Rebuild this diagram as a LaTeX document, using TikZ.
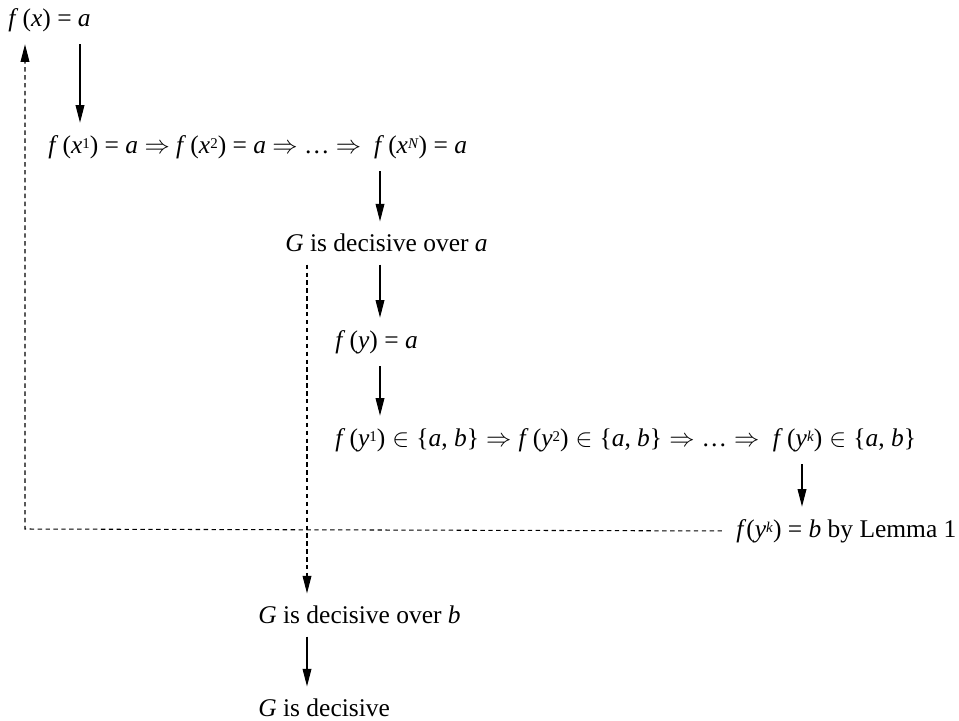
\documentclass[tikz,border=0pt]{standalone}
\usepackage{fontspec}
\setmainfont{Liberation Serif}
\usetikzlibrary{arrows.meta}
\newcommand{\iv}[1]{\textit{#1}}
\newcommand{\up}[1]{\raisebox{0.4ex}{\fontsize{8.5}{9}\selectfont #1}}
\newcommand{\inn}{\;$\in$\;}
\newcommand{\thn}{\;$\Rightarrow$\;}

\begin{document}
\begin{tikzpicture}[x=0.02cm, y=-0.02cm, font=\fontsize{14.5}{17}\selectfont,
  txt/.style={anchor=west, inner xsep=0pt, inner ysep=7pt},
  imp/.style={-{Triangle[length=10pt,width=5pt]}, line width=0.6pt},
  back/.style={imp, dash pattern=on 2.5pt off 2pt}]
  \useasboundingbox (0,0) rectangle (959,720);
  % columns of the arrows
  \coordinate (colA) at (80,0);
  \coordinate (colB) at (380,0);
  \coordinate (colC) at (802,0);
  \coordinate (colD) at (307,0);
  \coordinate (corner) at (25,529);
  \node[txt] (fx)  at (8,20)    {\iv{f}\,(\iv{x}) = \iv{a}};
  \node[txt] (rx)  at (48,147)  {\iv{f}\,(\iv{x}\up{1}) = \iv{a} $\Rightarrow$ \iv{f}\,(\iv{x}\up{2}) = \iv{a} $\Rightarrow$ \ldots\ $\Rightarrow$ \ \iv{f}\,(\iv{x}\up{\iv{N}}) = \iv{a}};
  \node[txt] (Ga)  at (285,243) {\iv{G} is decisive over \iv{a}};
  \node[txt] (fy)  at (335,342) {\iv{f}\,(\iv{y}) = \iv{a}};
  \node[txt] (ry)  at (335,440) {\iv{f}\,(\iv{y}\up{1})\inn\{\iv{a}, \iv{b}\}\thn\iv{f}\,(\iv{y}\up{2})\inn\{\iv{a}, \iv{b}\}\thn\ldots\thn\ \iv{f}\,(\iv{y}\up{\iv{k}})\inn\{\iv{a}, \iv{b}\}};
  \node[txt] (fyk) at (736,531) {\iv{f}(\iv{y}\up{\iv{k}}) = \iv{b} by Lemma 1};
  \node[txt] (Gb)  at (258,615) {\iv{G} is decisive over \iv{b}};
  \node[txt] (Gd)  at (258,708) {\iv{G} is decisive};
  \draw[imp] (fx.south -| colA) -- (rx.north -| colA);
  \draw[imp] (rx.south -| colB) -- (Ga.north -| colB);
  \draw[imp] (Ga.south -| colB) -- (fy.north -| colB);
  \draw[imp] (fy.south -| colB) -- (ry.north -| colB);
  \draw[imp] (ry.south -| colC) -- (fyk.north -| colC);
  \draw[imp] (Gb.south -| colD) -- (Gd.north -| colD);
  \draw[back, shorten <=8pt] (fyk.west) -- (corner) -- (fx.south -| corner);
  \draw[back] (Ga.south -| colD) -- (Gb.north -| colD);
\end{tikzpicture}
\end{document}
